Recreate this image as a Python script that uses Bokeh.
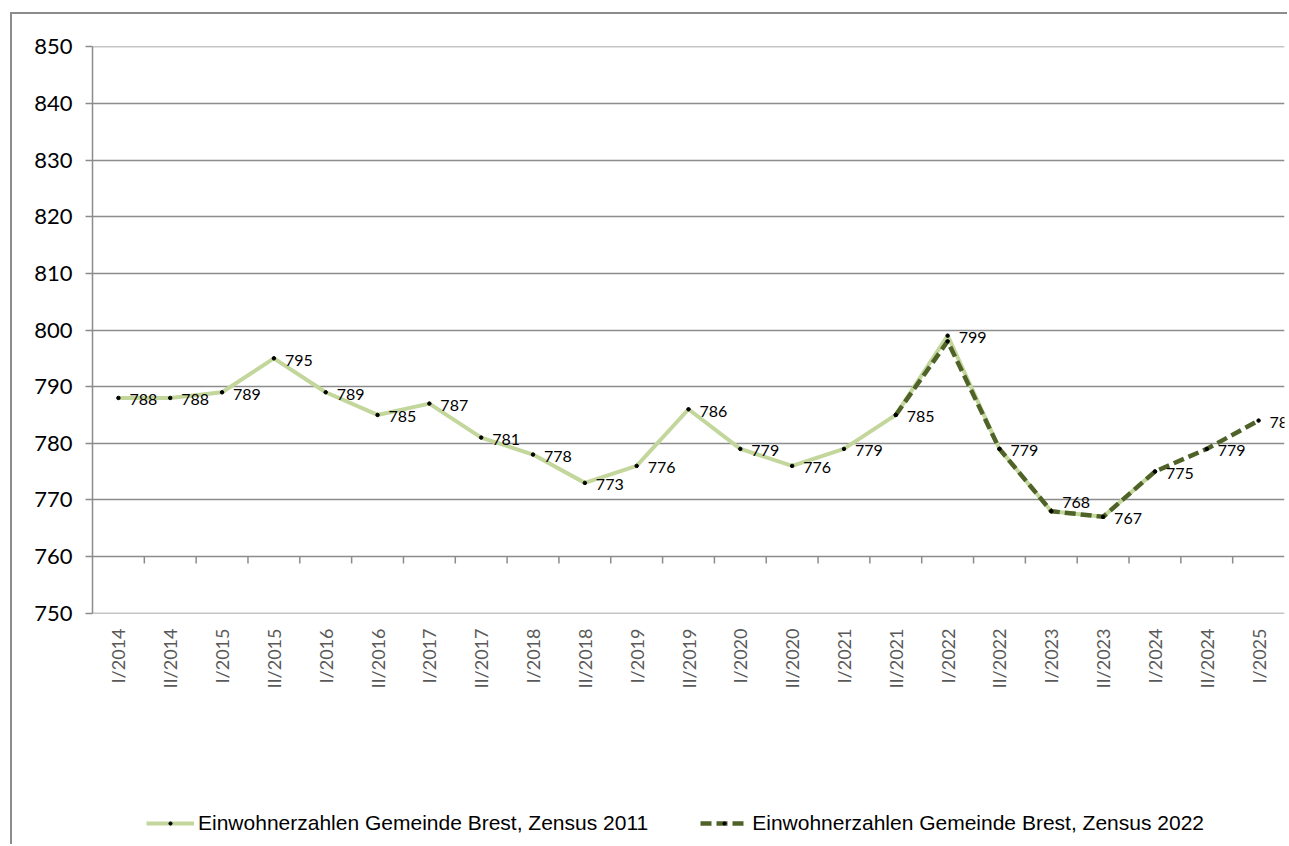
import math
from bokeh.plotting import figure
from bokeh.layouts import column
from bokeh.models import Range1d, FixedTicker, Legend, LegendItem
from bokeh.core.properties import value
from bokeh.embed import file_html
from bokeh.resources import INLINE

# ---------------- data ----------------
categories = ["I/2014", "II/2014", "I/2015", "II/2015", "I/2016", "II/2016",
              "I/2017", "II/2017", "I/2018", "II/2018", "I/2019", "II/2019",
              "I/2020", "II/2020", "I/2021", "II/2021", "I/2022", "II/2022",
              "I/2023", "II/2023", "I/2024", "II/2024", "I/2025"]
# Zensus 2011 series: from I/2014 up to I/2024
zensus_2011 = [788, 788, 789, 795, 789, 785, 787, 781, 778, 773, 776, 786,
               779, 776, 779, 785, 799, 779, 768, 767, 775]
# Zensus 2022 series: from II/2021 up to I/2025
zensus_2022_first = "II/2021"
zensus_2022 = [785, 798, 779, 768, 767, 775, 779, 784]
y_ticks = [750, 760, 770, 780, 790, 800, 810, 820, 830, 840, 850]
name_2011 = "Einwohnerzahlen Gemeinde Brest, Zensus 2011"
name_2022 = "Einwohnerzahlen Gemeinde Brest, Zensus 2022"
# which points carry a data label
labelled_2011 = categories[:17]
labelled_2022 = categories[17:]

# ---------------- styles ----------------
LIGHT = "#c3d69b"
DARK = "#4f6228"
GRID = "#8c8c8c"
FONT = "Lato"
BORDER = "2px solid #8c8c8c"

n = len(categories)
pos = {c: i + 0.5 for i, c in enumerate(categories)}
x1 = [pos[c] for c in categories[:len(zensus_2011)]]
start = categories.index(zensus_2022_first)
x2 = [pos[c] for c in categories[start:start + len(zensus_2022)]]

W = 1277
H_LEG = 60
H_MAIN = 772

p = figure(width=W, height=H_MAIN, x_range=Range1d(0, n), y_range=Range1d(749.93, 850.07),
           output_backend="svg", toolbar_location=None,
           min_border_left=80, min_border_right=5, min_border_top=32,
           min_border_bottom=H_MAIN - 599)
p.styles = {"border-top": BORDER, "border-left": BORDER,
            "margin-left": "10px", "margin-top": "12px"}
p.outline_line_color = None
p.background_fill_color = "white"
p.border_fill_color = "white"

p.xgrid.visible = False
p.ygrid.ticker = FixedTicker(ticks=y_ticks)
p.ygrid.grid_line_color = GRID
p.ygrid.grid_line_width = 1.5

ya = p.yaxis[0]
ya.ticker = FixedTicker(ticks=y_ticks)
ya.bounds = (750, 850)
ya.axis_line_color = GRID
ya.axis_line_width = 1.5
ya.major_tick_line_color = GRID
ya.major_tick_line_width = 1.5
ya.major_tick_out = 7
ya.major_tick_in = 0
ya.minor_tick_line_color = None
ya.major_label_text_font = FONT
ya.major_label_text_font_size = "22px"
ya.major_label_text_color = "#000000"
ya.major_label_standoff = 13

xa = p.xaxis[0]
xa.ticker = FixedTicker(ticks=[pos[c] for c in categories])
xa.major_label_overrides = {pos[c]: c for c in categories}
xa.major_label_orientation = math.pi / 2
xa.axis_line_color = None
xa.major_tick_line_color = None
xa.major_tick_out = 0
xa.major_tick_in = 0
xa.minor_tick_line_color = None
xa.minor_tick_out = 0
xa.major_label_text_font = FONT
xa.major_label_text_font_size = "18px"
xa.major_label_text_color = "#595959"
xa.major_label_standoff = 15

# category boundary ticks hanging from the 760 line
bounds = [i for i in range(1, n)]
p.segment(x0=bounds, y0=[760] * len(bounds), x1=bounds, y1=[758.77] * len(bounds),
          line_color=GRID, line_width=1.5)

l1 = p.line(x1, zensus_2011, line_color=LIGHT, line_width=4)
d1 = p.scatter(x1, zensus_2011, size=3.5, color="black")
l2 = p.line(x2, zensus_2022, line_color=DARK, line_width=4.5, line_dash="11 5")
d2 = p.scatter(x2, zensus_2022, size=3.5, color="black")

# data labels
lx, ly, lt, lc = [], [], [], []
for c, v in zip(categories, zensus_2011):
    if c in labelled_2011:
        lx.append(pos[c]); ly.append(v); lt.append(str(v)); lc.append(c)
for c, v in zip(categories[start:], zensus_2022):
    if c in labelled_2022:
        lx.append(pos[c]); ly.append(v); lt.append(str(v)); lc.append(c)
yoff = [(-9 if c == "I/2023" else 2) for c in lc]
p.text(x=lx, y=ly, text=lt, x_offset=11, y_offset=yoff, text_baseline="middle",
       text_align="left", text_font=value(FONT), text_font_size="16px", text_color="black")

# ---------------- legend strip (same series, drawn out of view; only the legend shows) ----
q = figure(width=W, height=H_LEG, x_range=Range1d(0, n), y_range=Range1d(0, 1),
           output_backend="svg", toolbar_location=None, x_axis_type=None, y_axis_type=None,
           min_border=0)
q.styles = {"border-left": BORDER, "margin-left": "10px"}
q.outline_line_color = None
q.xgrid.visible = False
q.ygrid.visible = False
ql1 = q.line(x1, zensus_2011, line_color=LIGHT, line_width=4)
qd1 = q.scatter(x1, zensus_2011, size=3.5, color="black")
ql2 = q.line(x2, zensus_2022, line_color=DARK, line_width=4.5, line_dash="11 5")
qd2 = q.scatter(x2, zensus_2022, size=3.5, color="black")
leg = Legend(items=[LegendItem(label=name_2011, renderers=[ql1, qd1]),
                    LegendItem(label=name_2022, renderers=[ql2, qd2])],
             location=(54, 9), orientation="horizontal",
             padding=0, margin=0, spacing=52, glyph_width=48, glyph_height=8,
             label_height=20, label_standoff=4, border_line_color=None,
             background_fill_alpha=0, label_text_font="Liberation Sans",
             label_text_font_size="21px", label_text_color="#000000")
q.add_layout(leg, "center")

layout = column(p, q, spacing=0)
open("out.html", "w").write(file_html(layout, INLINE))
